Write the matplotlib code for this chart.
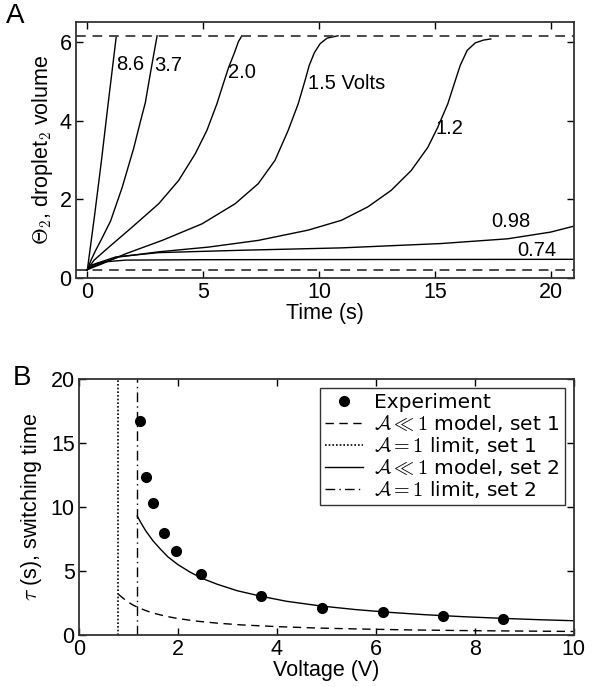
import numpy as np
import matplotlib.pyplot as plt

plt.rcParams['font.family'] = ['Liberation Sans', 'DejaVu Sans']
plt.rcParams['mathtext.fontset'] = 'cm'

# ---- panel A : droplet volume vs time, one curve per voltage ----
pre_t = [-0.5, 0.0]
pre_v = [0.22, 0.22]

t_86 = [0.0, 0.3, 0.6, 0.9, 1.25]
v_86 = [0.22, 1.55, 2.95, 4.45, 6.15]

t_37 = [0.0, 0.15, 0.35, 0.6, 1.0, 1.5, 2.0, 2.3, 2.5, 2.75, 3.01]
v_37 = [0.22, 0.45, 0.7, 0.98, 1.45, 2.3, 3.3, 4.0, 4.45, 5.3, 6.15]

t_20 = [0.0, 0.29, 0.93, 1.94, 3.08, 3.94, 4.66, 5.16, 5.59, 5.85, 6.1, 6.35,
        6.52, 6.67]
v_20 = [0.22, 0.46, 0.79, 1.3, 1.89, 2.48, 3.16, 3.75, 4.42, 4.9, 5.35, 5.72,
        6.0, 6.15]

t_15 = [0.0, 0.65, 1.65, 3.23, 4.95, 6.38, 7.38, 8.1, 8.67, 9.1, 9.39, 9.58,
        9.8, 10.05, 10.35, 10.82]
v_15 = [0.22, 0.37, 0.62, 0.96, 1.38, 1.89, 2.4, 2.99, 3.75, 4.42, 5.0, 5.4,
        5.72, 5.95, 6.09, 6.15]

t_12 = [0.0, 0.36, 1.36, 3.08, 5.23, 7.38, 9.53, 10.97, 12.11, 13.12, 13.98,
        14.7, 15.13, 15.56, 15.85, 16.1, 16.4, 16.75, 17.1, 17.42]
v_12 = [0.22, 0.33, 0.54, 0.67, 0.79, 0.96, 1.22, 1.47, 1.81, 2.23, 2.73,
        3.32, 3.83, 4.42, 4.95, 5.4, 5.78, 5.97, 6.04, 6.07]

t_098 = [0.0, 0.36, 1.22, 3.08, 6.67, 10.97, 15.27, 18.14, 20.0, 21.0]
v_098 = [0.22, 0.37, 0.54, 0.65, 0.71, 0.77, 0.88, 1.0, 1.17, 1.32]

t_074 = [0.0, 0.14, 0.65, 1.65, 5.0, 21.0]
v_074 = [0.22, 0.33, 0.41, 0.46, 0.47, 0.48]

curve_labels = ['8.6', '3.7', '2.0', '1.5 Volts', '1.2', '0.98', '0.74']
label_x = [1.22, 2.87, 6.09, 9.53, 15.05, 17.42, 18.57]
label_y = [5.43, 5.39, 5.22, 4.93, 3.79, 1.43, 0.71]

theta_max = 6.15
theta_min = 0.22

# ---- panel B : switching time vs voltage ----
exp_v = [1.24, 1.36, 1.49, 1.73, 1.97, 2.47, 3.69, 4.92, 6.14, 7.35, 8.57]
exp_tau = [16.75, 12.35, 10.3, 7.98, 6.53, 4.79, 3.02, 2.11, 1.77, 1.48, 1.2]

set2_v = [1.18, 1.25, 1.35, 1.5, 1.65, 1.8, 2.0, 2.25, 2.5, 2.8, 3.2, 3.7,
          4.2, 4.9, 5.6, 6.3, 7.0, 7.8, 8.6, 9.3, 10.0]
set2_tau = [9.3, 8.8, 8.15, 7.35, 6.7, 6.1, 5.5, 4.9, 4.4, 3.95, 3.45, 3.0,
            2.62, 2.25, 1.97, 1.75, 1.57, 1.41, 1.28, 1.18, 1.1]

set1_v = [0.8, 0.9, 1.0, 1.1, 1.2, 1.35, 1.5, 1.75, 2.0, 2.4, 2.8, 3.3, 4.0,
          4.8, 5.7, 6.7, 8.0, 10.0]
set1_tau = [3.17, 2.85, 2.55, 2.32, 2.13, 1.9, 1.7, 1.46, 1.27, 1.06, 0.91,
            0.77, 0.64, 0.53, 0.45, 0.38, 0.32, 0.26]

limit1_v = 0.8
limit2_v = 1.18

fig = plt.figure(figsize=(5.97, 6.87), dpi=100)
axA = fig.add_axes([0.127, 0.595, 0.834, 0.373])
axB = fig.add_axes([0.132, 0.076, 0.829, 0.372])

lw = 1.0
axA.plot(pre_t, pre_v, color='black', lw=1.3)
for tt, vv in [(t_86, v_86), (t_37, v_37), (t_20, v_20), (t_15, v_15),
               (t_12, v_12), (t_098, v_098), (t_074, v_074)]:
    axA.plot(tt, vv, color='black', lw=lw)
axA.axhline(theta_max, color='#4a4a4a', lw=1.4, ls=(0, (5, 3.5)))
axA.axhline(theta_min, color='#4a4a4a', lw=1.4, ls=(0, (5, 3.5)))
for s, x, y in zip(curve_labels, label_x, label_y):
    axA.text(x, y, s, fontsize=14.5, va='center', ha='left')

axA.set_xlim(-0.5, 21)
axA.set_ylim(0, 6.5)
axA.set_xticks([0, 5, 10, 15, 20])
axA.set_yticks([0, 2, 4, 6])
axA.set_xlabel('Time (s)', fontsize=15.5, labelpad=0)
axA.set_ylabel(r'$\Theta_2$, droplet$_2$ volume', fontsize=15.5, labelpad=3)
fig.text(0.01, 0.977, 'A', fontsize=20, va='center')

# panel B
axB.plot(exp_v, exp_tau, 'o', color='black', ms=7, label='Experiment')
axB.plot(set1_v, set1_tau, color='black', lw=lw, ls=(0, (6, 4)),
         label=r'$\mathcal{A} \ll 1$ model, set 1')
axB.axvline(limit1_v, color='black', lw=1.2, ls=(0, (1, 1.2)),
            label=r'$\mathcal{A} = 1$ limit, set 1')
axB.plot(set2_v, set2_tau, color='black', lw=lw,
         label=r'$\mathcal{A} \ll 1$ model, set 2')
axB.axvline(limit2_v, color='black', lw=1.0, ls=(0, (7, 3, 1, 3)),
            label=r'$\mathcal{A} = 1$ limit, set 2')
leg = axB.legend(loc='upper right', fontsize=14.5, frameon=True, fancybox=False,
                 edgecolor='black', borderaxespad=0.45, handlelength=1.9,
                 labelspacing=0.05, borderpad=0.25, handletextpad=0.55)
leg.get_frame().set_linewidth(1.0)
for txt in leg.get_texts():
    txt.set_family(['DejaVu Sans'])

axB.set_xlim(0, 10)
axB.set_ylim(0, 20)
axB.set_xticks([0, 2, 4, 6, 8, 10])
axB.set_yticks([0, 5, 10, 15, 20])
axB.set_xlabel('Voltage (V)', fontsize=15.5, labelpad=0)
axB.set_ylabel(r'$\tau$ (s), switching time', fontsize=15.5, labelpad=5)
fig.text(0.022, 0.45, 'B', fontsize=20, va='center')

for ax in (axA, axB):
    ax.tick_params(direction='in', top=True, right=True, length=5,
                   labelsize=15.5, width=1.0, pad=3)
    for sp in ax.spines.values():
        sp.set_linewidth(1.3)
        sp.set_color('#333333')

fig.savefig('out.png', dpi=100)
